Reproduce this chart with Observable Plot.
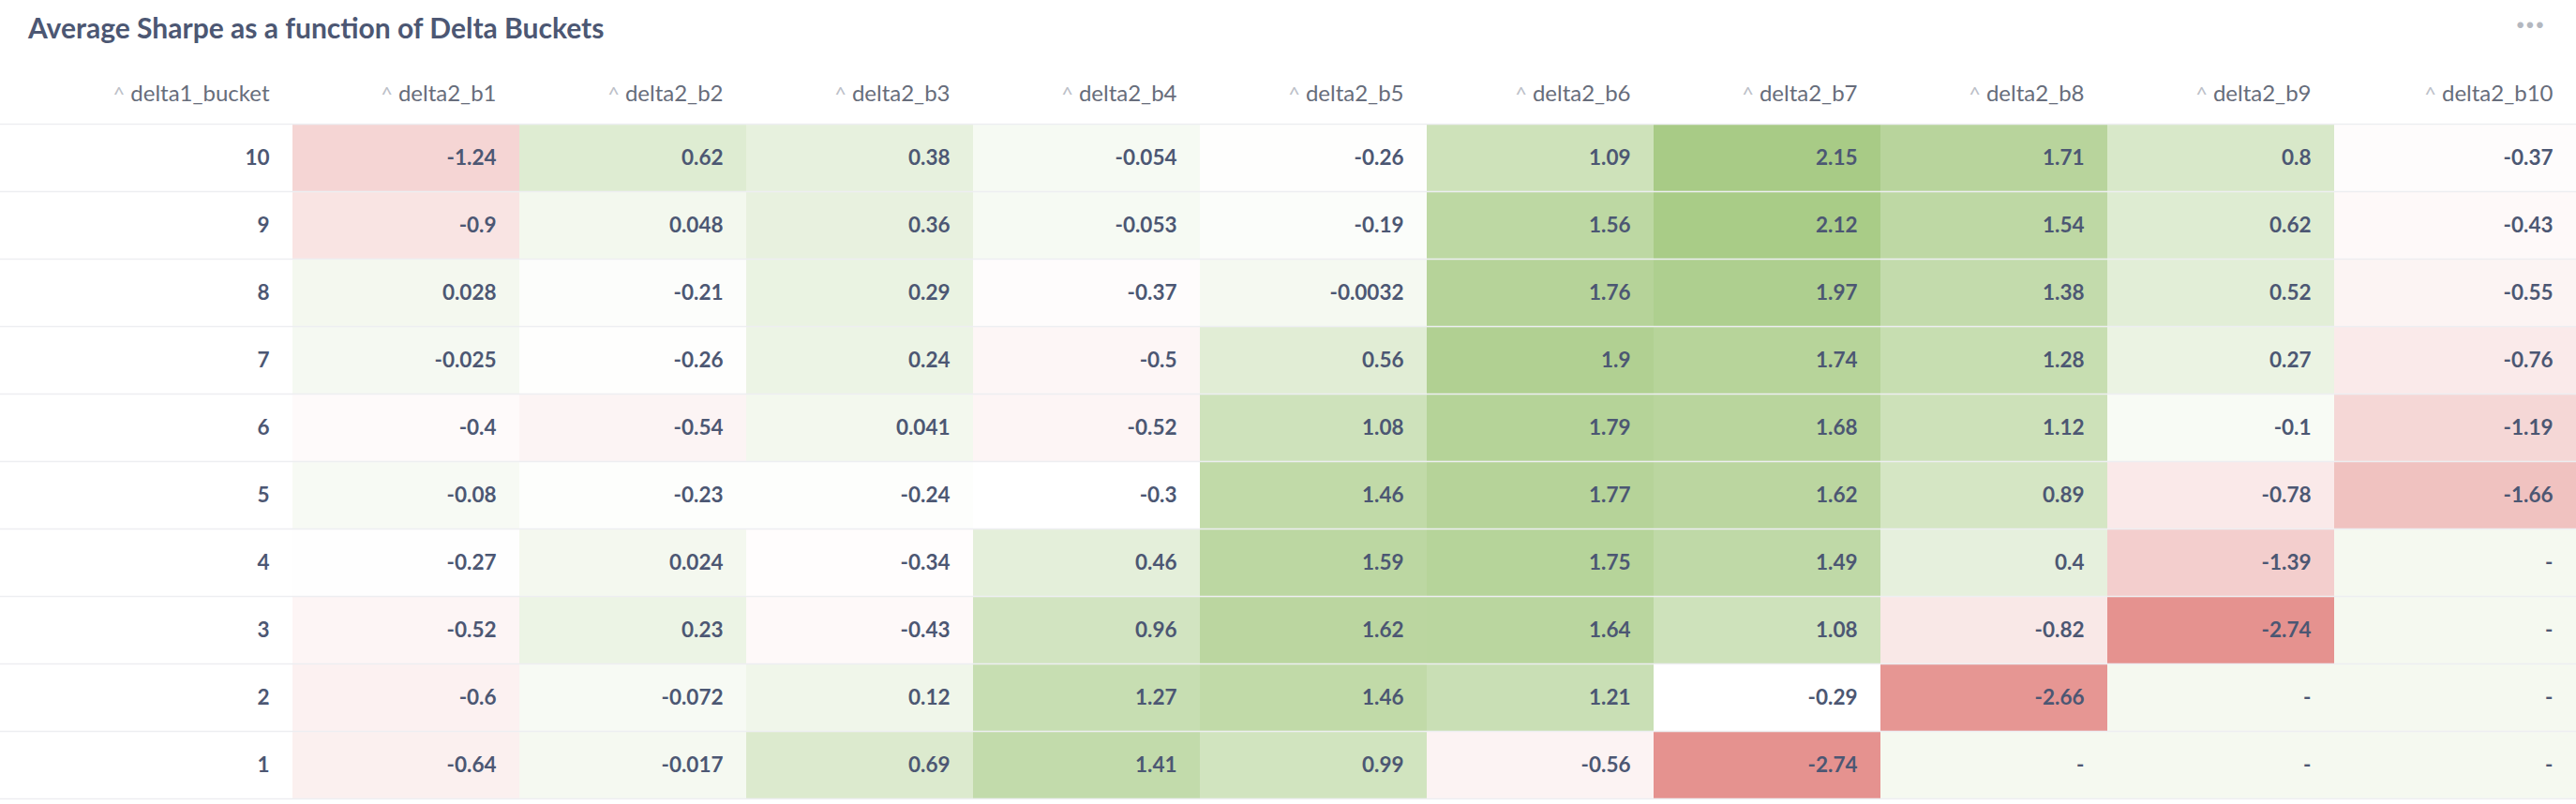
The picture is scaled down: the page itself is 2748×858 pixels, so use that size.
<!DOCTYPE html>
<html>
<head>
<meta charset="utf-8">
<script src="https://cdn.jsdelivr.net/npm/d3@7"></script>
<script src="https://cdn.jsdelivr.net/npm/@observablehq/plot@0.6"></script>
<style>
html, body { margin: 0; padding: 0; background: #fff; }
body { width: 2748px; height: 858px; overflow: hidden; font-family: Lato, "Noto Sans", sans-serif; }
#head { position: relative; height: 62px; }
#title { position: absolute; left: 30px; top: 11px; font-size: 30px; font-weight: 700; color: #4c5773; line-height: 36px; white-space: nowrap; }
#menu { position: absolute; left: 2684px; top: 3px; font-size: 34px; font-weight: 700; color: #b4b8c0; letter-spacing: 1px; }
#chart svg { display: block; }
</style>
</head>
<body>
<div id="head"><div id="title"></div><div id="menu">···</div></div>
<div id="chart"></div>
<script>
// ---- data ----
const chartTitle = "Average Sharpe as a function of Delta Buckets";
const rowHeader = "delta1_bucket";
const buckets = [10, 9, 8, 7, 6, 5, 4, 3, 2, 1];
const columns = ["delta2_b1", "delta2_b2", "delta2_b3", "delta2_b4", "delta2_b5",
                 "delta2_b6", "delta2_b7", "delta2_b8", "delta2_b9", "delta2_b10"];
const row10 = [-1.24, 0.62, 0.38, -0.054, -0.26, 1.09, 2.15, 1.71, 0.8, -0.37];
const row9  = [-0.9, 0.048, 0.36, -0.053, -0.19, 1.56, 2.12, 1.54, 0.62, -0.43];
const row8  = [0.028, -0.21, 0.29, -0.37, -0.0032, 1.76, 1.97, 1.38, 0.52, -0.55];
const row7  = [-0.025, -0.26, 0.24, -0.5, 0.56, 1.9, 1.74, 1.28, 0.27, -0.76];
const row6  = [-0.4, -0.54, 0.041, -0.52, 1.08, 1.79, 1.68, 1.12, -0.1, -1.19];
const row5  = [-0.08, -0.23, -0.24, -0.3, 1.46, 1.77, 1.62, 0.89, -0.78, -1.66];
const row4  = [-0.27, 0.024, -0.34, 0.46, 1.59, 1.75, 1.49, 0.4, -1.39, null];
const row3  = [-0.52, 0.23, -0.43, 0.96, 1.62, 1.64, 1.08, -0.82, -2.74, null];
const row2  = [-0.6, -0.072, 0.12, 1.27, 1.46, 1.21, -0.29, -2.66, null, null];
const row1  = [-0.64, -0.017, 0.69, 1.41, 0.99, -0.56, -2.74, null, null, null];
const rowValues = [row10, row9, row8, row7, row6, row5, row4, row3, row2, row1];

// ---- table built from the arrays ----
const data = [];
buckets.forEach((b, i) => columns.forEach((c, j) => data.push({bucket: b, column: c, value: rowValues[i][j]})));
const vals = data.map(d => d.value).filter(v => v != null);
const lo = d3.min(vals), hi = d3.max(vals), mid = (lo + hi) / 2;

document.getElementById("title").textContent = chartTitle;

// ---- layout / style ----
const W = 2748, H = 796, ML = 312, MT = 70, MB = 6;
const colW = 242, lastExtra = 16, pad = 25;
const lastCol = columns[columns.length - 1];
const mainCols = columns.slice(0, -1);
const dxText = colW / 2 - pad;
const valueStyle = {fontSize: 22.5, fill: "#4c5773", fontWeight: 700, textAnchor: "end"};
const headStyle = {fontSize: 24, fontWeight: 400};
const headColor = "#676d7b";
const fillOf = d => d.value ?? 0;
const label = d => d.value == null ? "-" : String(d.value);

const chart = Plot.plot({
  width: W, height: H,
  marginTop: MT, marginLeft: ML, marginRight: 0, marginBottom: MB,
  style: {fontFamily: "Lato, 'Noto Sans', sans-serif", background: "#fff", overflow: "visible"},
  x: {type: "band", domain: columns, range: [ML, ML + colW * columns.length], padding: 0, label: null},
  y: {type: "band", domain: buckets, padding: 0, label: null},
  color: {type: "linear", domain: [lo, mid, hi], range: ["#e5928f", "#ffffff", "#a8cb86"], interpolate: "rgb"},
  marks: [
    Plot.cell(data.filter(d => d.column !== lastCol), {x: "column", y: "bucket", fill: fillOf}),
    Plot.cell(data.filter(d => d.column === lastCol), {x: "column", y: "bucket", fill: fillOf, insetRight: -lastExtra}),
    Plot.ruleY(buckets, {y: d => d, dy: 36, insetLeft: -ML, stroke: "#edeef1", strokeWidth: 1.5}),
    Plot.ruleY(buckets.slice(0, 1), {y: d => d, dy: -36, insetLeft: -ML, stroke: "#edeef1", strokeWidth: 1.5}),
    Plot.text(data.filter(d => d.column !== lastCol), {x: "column", y: "bucket", text: label, dx: dxText, ...valueStyle}),
    Plot.text(data.filter(d => d.column === lastCol), {x: "column", y: "bucket", text: label, dx: dxText + lastExtra, ...valueStyle}),
    Plot.axisY({anchor: "left", tickSize: 0, tickPadding: pad, fontSize: 22.5, color: "#4c5773", fontWeight: 700, label: null}),
    Plot.axisX(mainCols, {anchor: "top", tickSize: 0, tickPadding: 25, textAnchor: "end", dx: dxText, color: headColor, label: null, ...headStyle}),
    Plot.axisX([lastCol], {anchor: "top", tickSize: 0, tickPadding: 25, textAnchor: "end", dx: dxText + lastExtra, color: headColor, label: null, ...headStyle}),
    Plot.text([rowHeader], {frameAnchor: "top-left", text: d => d, textAnchor: "end", lineAnchor: "bottom", dx: -pad, dy: -25, fill: headColor, ...headStyle})
  ]
});

// sort carets in front of header labels
d3.select(chart).selectAll("text").filter(function() { return /^delta/.test(this.textContent); })
  .each(function() {
    const t = d3.select(this);
    const s = t.text();
    t.text(null);
    t.append("tspan").attr("fill", "#bcc0c8").attr("font-size", 22).text("^");
    t.append("tspan").attr("dx", 6).text(s);
  });

document.getElementById("chart").appendChild(chart);
</script>
</body>
</html>
